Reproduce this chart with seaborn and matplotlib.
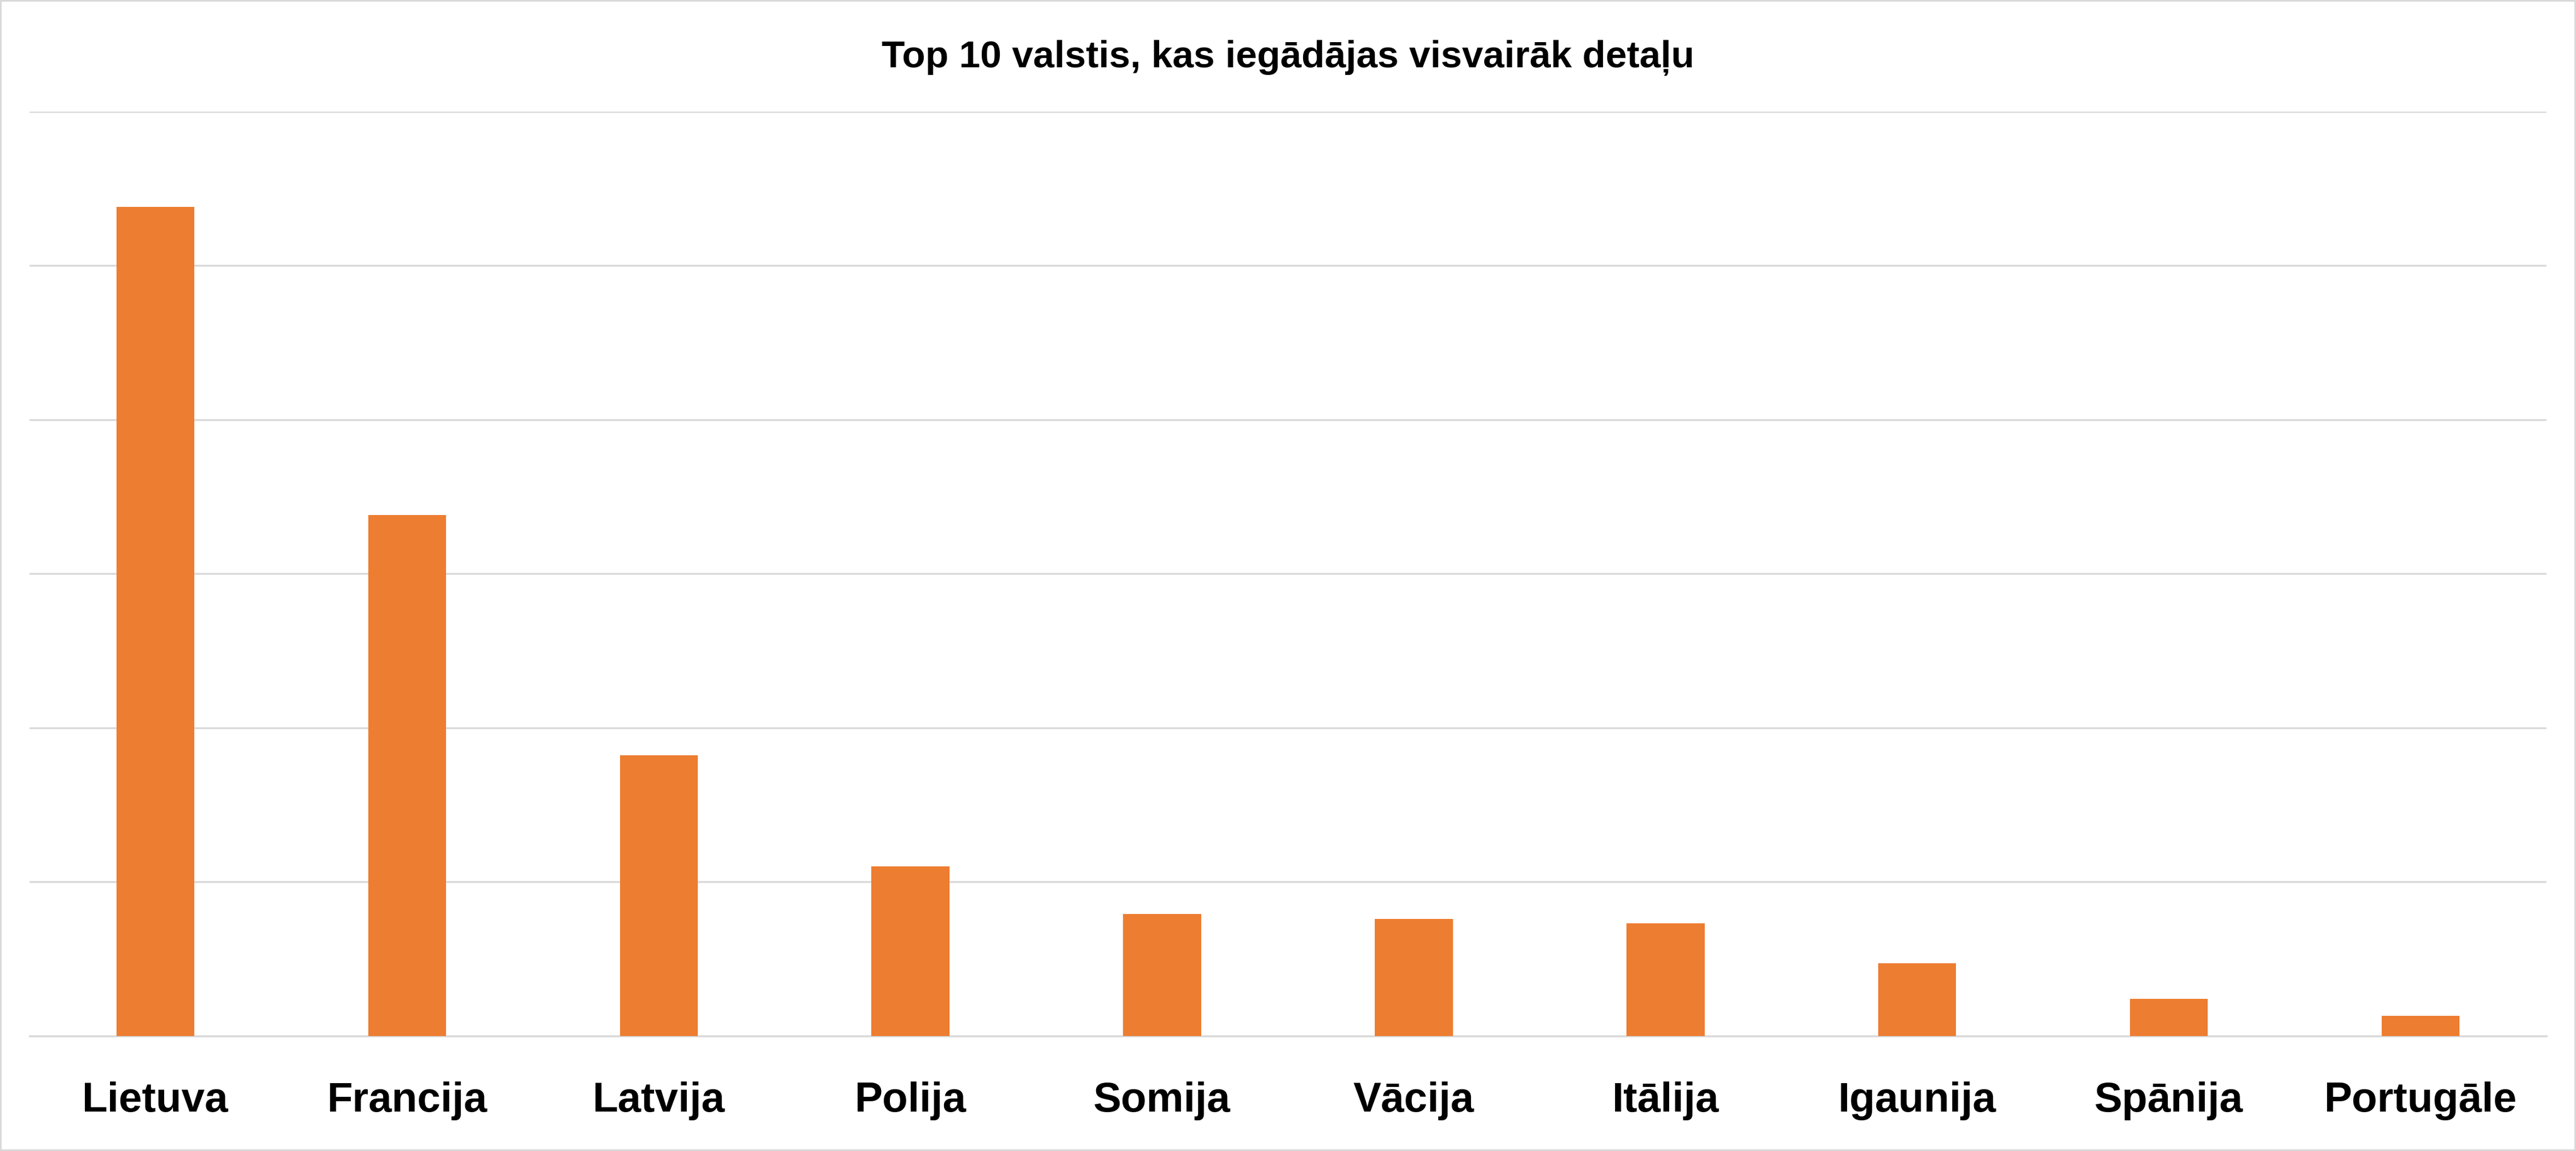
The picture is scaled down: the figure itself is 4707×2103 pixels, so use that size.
import matplotlib
matplotlib.use("Agg")
import matplotlib.pyplot as plt
import seaborn as sns
import pandas as pd

countries = ["Lietuva", "Francija", "Latvija", "Polija", "Somija",
             "Vācija", "Itālija", "Igaunija", "Spānija", "Portugāle"]
values = [538, 338, 182, 110, 79, 76, 73, 47, 24, 13]

df = pd.DataFrame({"country": countries, "value": values})

fig = plt.figure(figsize=(47.07, 21.03), dpi=100)
fig.patch.set_edgecolor("#d9d9d9")
fig.patch.set_linewidth(4)
ax = fig.add_axes([0.0115, 0.1, 0.977, 0.803])

sns.barplot(data=df, x="country", y="value", color="#ed7d31", width=0.31,
            saturation=1, ax=ax, zorder=3)

ax.set_ylim(0, 600)
ax.set_yticks(range(0, 601, 100))
ax.set_yticklabels([])
ax.tick_params(axis="y", length=0)
ax.tick_params(axis="x", length=0, pad=60)
ax.grid(axis="y", color="#d9d9d9", linewidth=2.5, zorder=0)
for s in ["top", "right", "left"]:
    ax.spines[s].set_visible(False)
ax.spines["bottom"].set_color("#d9d9d9")
ax.spines["bottom"].set_linewidth(2.5)
ax.set_xlabel("")
ax.set_ylabel("")
ax.set_xlim(-0.5, 9.5)
for lbl in ax.get_xticklabels():
    lbl.set_fontsize(55)
    lbl.set_fontweight("bold")
    lbl.set_fontfamily("Liberation Sans")

fig.text(0.5, 0.95, "Top 10 valstis, kas iegādājas visvairāk detaļu",
         ha="center", va="center", fontsize=50, fontweight="bold",
         fontfamily="Liberation Sans")

fig.savefig("out.png", dpi=100)
